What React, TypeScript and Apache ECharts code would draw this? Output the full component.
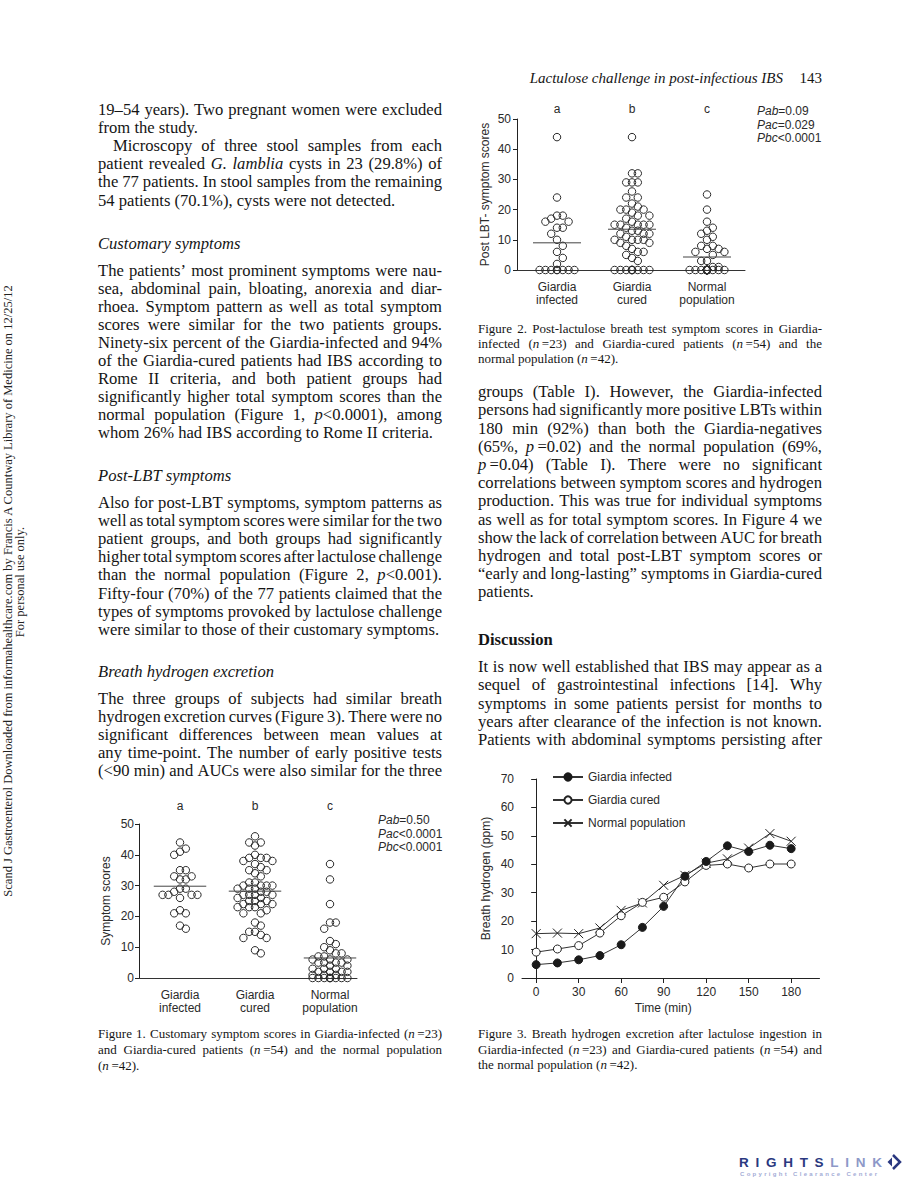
import React, { useEffect, useRef } from 'react';
import * as echarts from 'echarts';

const SERIF = '"Liberation Serif", "Times New Roman", serif';
const SANS = '"Liberation Sans", Arial, Helvetica, sans-serif';
const INK = '#151515';
const AX = '#2a2a2a';

// ---------------- DATA ----------------
const groupLabels = ['Giardia\ninfected', 'Giardia\ncured', 'Normal\npopulation'];
const groupLetters = ['a', 'b', 'c'];

// Figure 1: customary symptom scores
const fig1Infected = [44, 42, 41, 40, 35, 35, 33, 33, 32, 32, 29, 29, 28, 27, 27, 27, 27, 26, 22, 21, 21, 17, 16];
const fig1Cured = [46, 44, 44, 43, 40, 39, 39, 39, 38, 38, 37, 36, 35, 35, 34, 33, 31, 31, 30, 30, 30, 30, 29, 29, 29, 28, 28, 27, 27, 27, 27, 26, 26, 25, 25, 25, 24, 24, 24, 23, 23, 23, 22, 21, 21, 18, 17, 15, 15, 14, 13, 13, 9, 8];
const fig1Normal = [37, 32, 24, 18, 18, 16, 12, 11, 10, 9, 8, 8, 7, 7, 6, 6, 6, 5, 5, 5, 5, 4, 4, 3, 3, 3, 2, 2, 2, 2, 1, 1, 1, 0, 0, 0, 0, 0, 0, 0, 0, 0];
const fig1Means = [29.8, 28.2, 6.5];
const fig1PNames = ['Pab', 'Pac', 'Pbc'];
const fig1PValues = ['=0.50', '<0.0001', '<0.0001'];

// Figure 2: post-LBT symptom scores
const fig2Infected = [44, 24, 18, 18, 17, 16, 16, 14, 14, 12, 10, 8, 6, 4, 2, 0, 0, 0, 0, 0, 0, 0, 0];
const fig2Cured = [44, 32, 32, 29, 29, 29, 26, 24, 24, 22, 21, 20, 20, 20, 19, 18, 18, 17, 16, 15, 15, 15, 15, 15, 14, 13, 13, 12, 12, 12, 11, 10, 10, 10, 10, 9, 9, 8, 7, 6, 6, 5, 4, 3, 0, 0, 0, 0, 0, 0, 0, 0, 0, 0];
const fig2Normal = [25, 20, 16, 14, 13, 12, 11, 10, 8, 8, 7, 7, 6, 6, 5, 3, 3, 1, 1, 0, 0, 0, 0, 0, 0, 0, 0, 0, 0, 0, 0, 0, 0, 0, 0, 0, 0, 0, 0, 0, 0, 0];
const fig2Means = [9, 13.5, 4.3];
const fig2PNames = ['Pab', 'Pac', 'Pbc'];
const fig2PValues = ['=0.09', '=0.029', '<0.0001'];

// Figure 3: breath hydrogen (ppm) over time (min)
const timeMin = [0, 15, 30, 45, 60, 75, 90, 105, 120, 135, 150, 165, 180];
const timeTicks = [0, 30, 60, 90, 120, 150, 180];
const h2Infected = [4.7, 5.3, 6.4, 7.9, 11.7, 17.8, 25.2, 35.8, 41.0, 46.5, 44.5, 46.7, 45.5];
const h2Cured = [9.1, 10.2, 11.4, 15.8, 21.9, 26.6, 28.4, 33.8, 39.6, 40.1, 38.7, 40.1, 40.1];
const h2Normal = [15.6, 15.8, 15.6, 17.6, 23.8, 26.4, 32.6, 36.1, 40.4, 41.9, 45.7, 50.8, 48.1];
const fig3Names = ['Giardia infected', 'Giardia cured', 'Normal population'];

// Page text (words between * * are italic)
const headerTitle = 'Lactulose challenge in post-infectious IBS';
const headerPage = '143';
const sideLine1 = 'Scand J Gastroenterol Downloaded from informahealthcare.com by Francis A Countway Library of Medicine on 12/25/12';
const sideLine2 = 'For personal use only.';

const leftP1 = [
  '19–54 years). Two pregnant women were excluded',
  'from the study.',
];
const leftP2 = [
  'Microscopy of three stool samples from each',
  'patient revealed *G. lamblia* cysts in 23 (29.8%) of',
  'the 77 patients. In stool samples from the remaining',
  '54 patients (70.1%), cysts were not detected.',
];
const headCustomary = 'Customary symptoms';
const leftP3 = [
  'The patients’ most prominent symptoms were nau-',
  'sea, abdominal pain, bloating, anorexia and diar-',
  'rhoea. Symptom pattern as well as total symptom',
  'scores were similar for the two patients groups.',
  'Ninety-six percent of the Giardia-infected and 94%',
  'of the Giardia-cured patients had IBS according to',
  'Rome II criteria, and both patient groups had',
  'significantly higher total symptom scores than the',
  'normal population (Figure 1, *p*<0.0001), among',
  'whom 26% had IBS according to Rome II criteria.',
];
const headPostLBT = 'Post-LBT symptoms';
const leftP4 = [
  'Also for post-LBT symptoms, symptom patterns as',
  'well as total symptom scores were similar for the two',
  'patient groups, and both groups had significantly',
  'higher total symptom scores after lactulose challenge',
  'than the normal population (Figure 2, *p*<0.001).',
  'Fifty-four (70%) of the 77 patients claimed that the',
  'types of symptoms provoked by lactulose challenge',
  'were similar to those of their customary symptoms.',
];
const headBreath = 'Breath hydrogen excretion';
const leftP5 = [
  'The three groups of subjects had similar breath',
  'hydrogen excretion curves (Figure 3). There were no',
  'significant differences between mean values at',
  'any time-point. The number of early positive tests',
  '(<90 min) and AUCs were also similar for the three',
];
const rightP1 = [
  'groups (Table I). However, the Giardia-infected',
  'persons had significantly more positive LBTs within',
  '180 min (92%) than both the Giardia-negatives',
  '(65%, *p*\u2009=0.02) and the normal population (69%,',
  '*p*\u2009=0.04) (Table I). There were no significant',
  'correlations between symptom scores and hydrogen',
  'production. This was true for individual symptoms',
  'as well as for total symptom scores. In Figure 4 we',
  'show the lack of correlation between AUC for breath',
  'hydrogen and total post-LBT symptom scores or',
  '“early and long-lasting” symptoms in Giardia-cured',
  'patients.',
];
const headDiscussion = 'Discussion';
const rightP2 = [
  'It is now well established that IBS may appear as a',
  'sequel of gastrointestinal infections [14]. Why',
  'symptoms in some patients persist for months to',
  'years after clearance of the infection is not known.',
  'Patients with abdominal symptoms persisting after',
];
const caption1 = [
  'Figure 1.  Customary symptom scores in Giardia-infected (*n*\u2009=23)',
  'and Giardia-cured patients (*n*\u2009=54) and the normal population',
  '(*n*\u2009=42).',
];
const caption2 = [
  'Figure 2. Post-lactulose breath test symptom scores in Giardia-',
  'infected (*n*\u2009=23) and Giardia-cured patients (*n*\u2009=54) and the',
  'normal population (*n*\u2009=42).',
];
const caption3 = [
  'Figure 3. Breath hydrogen excretion after lactulose ingestion in',
  'Giardia-infected (*n*\u2009=23) and Giardia-cured patients (*n*\u2009=54) and',
  'the normal population (*n*\u2009=42).',
];
const logoWord = 'RIGHTSLINK';
const logoSub = 'Copyright Clearance Center';

// ---------------- LAYOUT ----------------
const G1 = { left: 139, top: 824, width: 218, height: 154 };
const G2 = { left: 517, top: 119, width: 228, height: 151 };
const G3 = { left: 522, top: 779, width: 297.5, height: 199 };
const CAT_PX = 75; // px between group centres
const G1_C1 = 180;
const G2_C1 = 557;
const X1MIN = 1 - (G1_C1 - G1.left) / CAT_PX;
const X1MAX = 1 + (G1.left + G1.width - G1_C1) / CAT_PX;
const X2MIN = 1 - (G2_C1 - G2.left) / CAT_PX;
const X2MAX = 1 + (G2.left + G2.width - G2_C1) / CAT_PX;

const BODY = 16.6;
const CAP = 13;
const DY = -1.5;

type Seg = { t: string; it: boolean };

function lineWords(line: string): Seg[][] {
  const words: Seg[][] = [];
  let cur: Seg[] = [];
  let it = false;
  let buf = '';
  const flush = () => {
    if (buf) { cur.push({ t: buf, it }); buf = ''; }
  };
  for (const ch of line) {
    if (ch === '*') { flush(); it = !it; }
    else if (ch === ' ') { flush(); if (cur.length) { words.push(cur); cur = []; } }
    else buf += ch;
  }
  flush();
  if (cur.length) words.push(cur);
  return words;
}

let mctx: CanvasRenderingContext2D | null = null;
function measureFont(t: string, font: string, fallbackSize: number) {
  if (!mctx) mctx = document.createElement('canvas').getContext('2d');
  if (!mctx) return t.length * fallbackSize * 0.5;
  mctx.font = font;
  return mctx.measureText(t).width;
}
function measure(t: string, size: number, it: boolean, bold: boolean) {
  return measureFont(t, `${it ? 'italic ' : ''}${bold ? 'bold ' : ''}${size}px ${SERIF}`, size);
}

type Para = {
  lines: string[]; x: number; y0: number; lh: number; width: number; size: number;
  indent?: number; justifyLast?: boolean; italic?: boolean; bold?: boolean;
};

function paraElements(p: Para): any[] {
  const els: any[] = [];
  p.lines.forEach((line, i) => {
    const words = lineWords(line);
    const ind = i === 0 ? p.indent || 0 : 0;
    const x0 = p.x + ind;
    const W = p.width - ind;
    const bold = !!p.bold;
    const widths = words.map((w) => w.reduce((s, g) => s + measure(g.t, p.size, g.it || !!p.italic, bold), 0));
    const sum = widths.reduce((a, b) => a + b, 0);
    const space = measure(' ', p.size, false, bold);
    const n = words.length;
    const isLast = i === p.lines.length - 1;
    let gap = space;
    if (n > 1 && (!isLast || p.justifyLast)) gap = (W - sum) / (n - 1);
    const minGap = space * 0.6;
    let scale = 1;
    if (n > 1 && gap < minGap) {
      gap = minGap;
      scale = Math.min(1, (W - minGap * (n - 1)) / sum);
    } else if (n > 1 && sum + gap * (n - 1) > W) {
      scale = (W - gap * (n - 1)) / sum;
    } else if (n === 1 && sum > W) scale = W / sum;
    const y = p.y0 + i * p.lh + DY;
    let x = x0;
    words.forEach((w, j) => {
      const mixed = w.some((g) => g.it) && w.some((g) => !g.it);
      const allIt = !!p.italic || w.every((g) => g.it);
      const text = mixed ? w.map((g) => (g.it ? `{i|${g.t}}` : g.t)).join('') : w.map((g) => g.t).join('');
      els.push({
        type: 'text', x, y, scaleX: scale, silent: true,
        style: {
          text, fill: INK, fontFamily: SERIF, fontSize: p.size,
          fontStyle: !mixed && allIt ? 'italic' : 'normal',
          fontWeight: bold ? 'bold' : 'normal',
          align: 'left', verticalAlign: 'middle',
          rich: { i: { fontStyle: 'italic', fontFamily: SERIF, fontSize: p.size, fill: INK } },
        },
      });
      x += widths[j] * scale + gap;
    });
  });
  return els;
}

// tracked (letter-spaced) text spread over a given width
function trackedText(str: string, x0: number, totalW: number, y: number, size: number, bold: boolean, colorOf: (i: number) => string) {
  const font = `${bold ? 'bold ' : ''}${size}px ${SANS}`;
  const chars = str.split('');
  const ws = chars.map((c) => measureFont(c, font, size));
  const sum = ws.reduce((a, b) => a + b, 0);
  const track = chars.length > 1 ? (totalW - sum) / (chars.length - 1) : 0;
  const els: any[] = [];
  let x = x0;
  chars.forEach((c, i) => {
    if (c !== ' ') {
      els.push({
        type: 'text', x, y, silent: true,
        style: { text: c, fill: colorOf(i), fontFamily: SANS, fontWeight: bold ? 'bold' : 'normal', fontSize: size, align: 'left', verticalAlign: 'middle' },
      });
    }
    x += ws[i] + track;
  });
  return els;
}

// simple beeswarm: offsets columns so that circles do not pile up
function swarm(values: number[], center: number, pxPerY: number) {
  const STEP = 5.8, RX = 5.6, RY = 8.5, MAX_K = 3;
  const cands = [0];
  for (let k = 1; k <= MAX_K; k++) cands.push(k, -k);
  const placed: [number, number][] = [];
  const out: [number, number][] = [];
  [...values].sort((a, b) => b - a).forEach((v) => {
    const py = v * pxPerY;
    let best = 0, bestD = -1;
    for (const k of cands) {
      const px = k * STEP;
      let d = Infinity;
      for (const [qx, qy] of placed) d = Math.min(d, Math.hypot((px - qx) / RX, (py - qy) / RY));
      if (d >= 1) { best = k; break; }
      if (d > bestD + 1e-9) { bestD = d; best = k; }
    }
    placed.push([best * STEP, py]);
    out.push([center + (best * STEP) / CAT_PX, v]);
  });
  return out;
}

const axisText = { fontFamily: SANS, fontSize: 12, color: AX };

function catXAxes(grid: number, min: number, max: number, letterMargin: number) {
  return [
    {
      type: 'value', gridIndex: grid, min, max, position: 'bottom',
      axisLine: { show: true, onZero: false, lineStyle: { color: '#333', width: 1 } },
      axisTick: { show: false }, splitLine: { show: false },
      axisLabel: {
        ...axisText, customValues: [1, 2, 3], margin: 10, lineHeight: 13.3,
        formatter: (v: number) => groupLabels[Math.round(v) - 1] || '',
      },
    },
    {
      type: 'value', gridIndex: grid, min, max, position: 'top',
      axisLine: { show: false }, axisTick: { show: false }, splitLine: { show: false },
      axisLabel: {
        ...axisText, customValues: [1, 2, 3], margin: letterMargin,
        formatter: (v: number) => groupLetters[Math.round(v) - 1] || '',
      },
    },
  ];
}

function scoreYAxis(grid: number, name: string, nameGap: number, margin: number) {
  return {
    type: 'value', gridIndex: grid, min: 0, max: 50, interval: 10,
    name, nameLocation: 'middle', nameGap, nameMoveOverlap: false,
    nameTextStyle: { ...axisText },
    axisLine: { show: true, lineStyle: { color: '#222', width: 1 } },
    axisTick: { show: true, length: 4, lineStyle: { color: '#222' } },
    splitLine: { show: false },
    axisLabel: { ...axisText, margin },
  };
}

function groupSeries(xi: number, yi: number, groups: number[][], means: number[], pxPerY: number, half: number) {
  const s: any[] = [];
  groups.forEach((vals, g) => {
    s.push({
      type: 'scatter', xAxisIndex: xi, yAxisIndex: yi, symbol: 'circle', symbolSize: 7.5,
      data: swarm(vals, g + 1, pxPerY), silent: true,
      itemStyle: { color: 'rgba(255,255,255,0)', borderColor: '#2b2b2b', borderWidth: 1, opacity: 1 },
    });
    s.push({
      type: 'line', xAxisIndex: xi, yAxisIndex: yi, symbol: 'none', silent: true,
      data: [[g + 1 - half, means[g]], [g + 1 + half, means[g]]],
      lineStyle: { color: '#444', width: 1 },
    });
  });
  return s;
}

function pValueTexts(x: number, y0: number, names: string[], vals: string[]) {
  return names.map((nm, i) => ({
    type: 'text', x, y: y0 + i * 13.5, silent: true,
    style: {
      text: `{i|${nm}}${vals[i]}`, fill: AX, fontFamily: SANS, fontSize: 12,
      align: 'left', verticalAlign: 'middle',
      rich: { i: { fontStyle: 'italic', fontFamily: SANS, fontSize: 12, fill: AX } },
    },
  }));
}

function buildOption() {
  const graphics: any[] = [];
  const paras: Para[] = [
    { lines: leftP1, x: 98, y0: 111, lh: 18.1, width: 344, size: BODY },
    { lines: leftP2, x: 98, y0: 147.2, lh: 18.1, width: 344, size: BODY, indent: 15 },
    { lines: [headCustomary], x: 98, y0: 245, lh: 18, width: 344, size: BODY, italic: true },
    { lines: leftP3, x: 98, y0: 272.3, lh: 17.95, width: 344, size: BODY },
    { lines: [headPostLBT], x: 98, y0: 477, lh: 18, width: 344, size: BODY, italic: true },
    { lines: leftP4, x: 98, y0: 504, lh: 18.1, width: 344, size: BODY },
    { lines: [headBreath], x: 98, y0: 673, lh: 18, width: 344, size: BODY, italic: true },
    { lines: leftP5, x: 98, y0: 700, lh: 18.1, width: 344, size: BODY, justifyLast: true },
    { lines: rightP1, x: 478, y0: 393.3, lh: 18.18, width: 344, size: BODY },
    { lines: [headDiscussion], x: 478, y0: 641, lh: 18, width: 344, size: BODY, bold: true },
    { lines: rightP2, x: 478, y0: 668, lh: 18.25, width: 344, size: BODY, justifyLast: true },
    { lines: caption1, x: 98, y0: 1035, lh: 16, width: 344, size: CAP },
    { lines: caption2, x: 478, y0: 329.5, lh: 15.3, width: 344, size: CAP },
    { lines: caption3, x: 478, y0: 1035, lh: 15.5, width: 344, size: CAP },
  ];
  paras.forEach((p) => graphics.push(...paraElements(p)));

  // running header
  graphics.push({
    type: 'text', x: 783, y: 78, silent: true,
    style: { text: headerTitle, fill: INK, fontFamily: SERIF, fontSize: 15, fontStyle: 'italic', align: 'right', verticalAlign: 'middle' },
  });
  graphics.push({
    type: 'text', x: 822, y: 78, silent: true,
    style: { text: headerPage, fill: INK, fontFamily: SERIF, fontSize: 15, align: 'right', verticalAlign: 'middle' },
  });

  // side (rotated) download notice
  graphics.push({
    type: 'text', x: 7.5, y: 591, rotation: Math.PI / 2, silent: true,
    style: { text: sideLine1, fill: '#222', fontFamily: SERIF, fontSize: 12.5, align: 'center', verticalAlign: 'middle' },
  });
  graphics.push({
    type: 'text', x: 19.5, y: 582, rotation: Math.PI / 2, silent: true,
    style: { text: sideLine2, fill: '#222', fontFamily: SERIF, fontSize: 12.5, align: 'center', verticalAlign: 'middle' },
  });

  // p-values
  graphics.push(...pValueTexts(378, 820, fig1PNames, fig1PValues));
  graphics.push(...pValueTexts(757, 111, fig2PNames, fig2PValues));

  // RightsLink logo
  graphics.push(...trackedText(logoWord, 739, 143, 1162, 13.5, true, (i) => (i < 6 ? '#2a3880' : '#8d98c8')));
  graphics.push({
    type: 'polyline', silent: true,
    shape: { points: [[893, 1155], [900, 1162], [893, 1169]] },
    style: { stroke: '#2a3880', lineWidth: 2.5, fill: 'none' },
  });
  graphics.push({
    type: 'polygon', silent: true,
    shape: { points: [[892, 1157.5], [887.5, 1162], [892, 1166.5]] },
    style: { fill: '#2a3880' },
  });
  graphics.push(...trackedText(logoSub, 740, 137, 1174, 6, true, () => '#a3acd6'));

  const px1 = G1.height / 50;
  const px2 = G2.height / 50;

  const series: any[] = [
    ...groupSeries(0, 0, [fig1Infected, fig1Cured, fig1Normal], fig1Means, px1, 0.35),
    ...groupSeries(2, 1, [fig2Infected, fig2Cured, fig2Normal], fig2Means, px2, 0.32),
    {
      name: fig3Names[2], type: 'line', xAxisIndex: 4, yAxisIndex: 2,
      data: timeMin.map((t, i) => [t, h2Normal[i]]),
      symbol: 'path://M0,0L10,10M10,0L0,10', symbolSize: 9, showAllSymbol: true,
      lineStyle: { color: '#333', width: 1 },
      itemStyle: { color: '#222', borderColor: '#222', borderWidth: 1 },
    },
    {
      name: fig3Names[1], type: 'line', xAxisIndex: 4, yAxisIndex: 2,
      data: timeMin.map((t, i) => [t, h2Cured[i]]),
      symbol: 'circle', symbolSize: 8, showAllSymbol: true,
      lineStyle: { color: '#333', width: 1 },
      itemStyle: { color: '#fff', borderColor: '#222', borderWidth: 1 },
    },
    {
      name: fig3Names[0], type: 'line', xAxisIndex: 4, yAxisIndex: 2,
      data: timeMin.map((t, i) => [t, h2Infected[i]]),
      symbol: 'circle', symbolSize: 8, showAllSymbol: true,
      lineStyle: { color: '#333', width: 1 },
      itemStyle: { color: '#1a1a1a', borderColor: '#1a1a1a', borderWidth: 1 },
    },
  ];

  return {
    animation: false,
    backgroundColor: '#ffffff',
    textStyle: { fontFamily: SANS },
    grid: [
      { ...G1, outerBoundsMode: 'none', containLabel: false },
      { ...G2, outerBoundsMode: 'none', containLabel: false },
      { ...G3, outerBoundsMode: 'none', containLabel: false },
    ],
    legend: {
      show: true, orient: 'vertical', left: 552, top: 770, padding: 0, itemGap: 9,
      itemWidth: 30, itemHeight: 9, data: fig3Names,
      textStyle: { ...axisText, lineHeight: 14 },
      selectedMode: false,
    },
    xAxis: [
      ...catXAxes(0, X1MIN, X1MAX, 12),
      ...catXAxes(1, X2MIN, X2MAX, 4),
      {
        type: 'value', gridIndex: 2, min: -10, max: 200, position: 'bottom',
        name: 'Time (min)', nameLocation: 'middle', nameGap: 24, nameMoveOverlap: false,
        nameTextStyle: { ...axisText, padding: [0, 15, 0, 0] },
        axisLine: { show: true, onZero: false, lineStyle: { color: '#222', width: 1 } },
        axisTick: { show: true, length: 5, customValues: timeTicks, lineStyle: { color: '#222' } },
        splitLine: { show: false },
        axisLabel: { ...axisText, customValues: timeTicks, margin: 8 },
      },
    ],
    yAxis: [
      scoreYAxis(0, 'Symptom scores', 27, 5),
      scoreYAxis(1, 'Post LBT- symptom scores', 26, 6),
      {
        type: 'value', gridIndex: 2, min: 0, max: 70, interval: 10,
        name: 'Breath hydrogen (ppm)', nameLocation: 'middle', nameGap: 30, nameMoveOverlap: false,
        nameTextStyle: { ...axisText },
        axisLine: { show: true, lineStyle: { color: '#222', width: 1 } },
        axisTick: { show: true, length: 5, lineStyle: { color: '#222' } },
        splitLine: { show: false },
        axisLabel: { ...axisText, margin: 8 },
      },
    ],
    series,
    graphic: { elements: graphics },
  };
}

export default function App() {
  const ref = useRef<HTMLDivElement>(null);
  useEffect(() => {
    if (!ref.current) return;
    const chart = echarts.init(ref.current, null, { renderer: 'svg', width: 920, height: 1200 });
    chart.setOption(buildOption() as any);
    return () => chart.dispose();
  }, []);
  return (
    <div
      ref={ref}
      style={{ position: 'absolute', left: 0, top: 0, width: 920, height: 1200, background: '#fff' }}
    />
  );
}
